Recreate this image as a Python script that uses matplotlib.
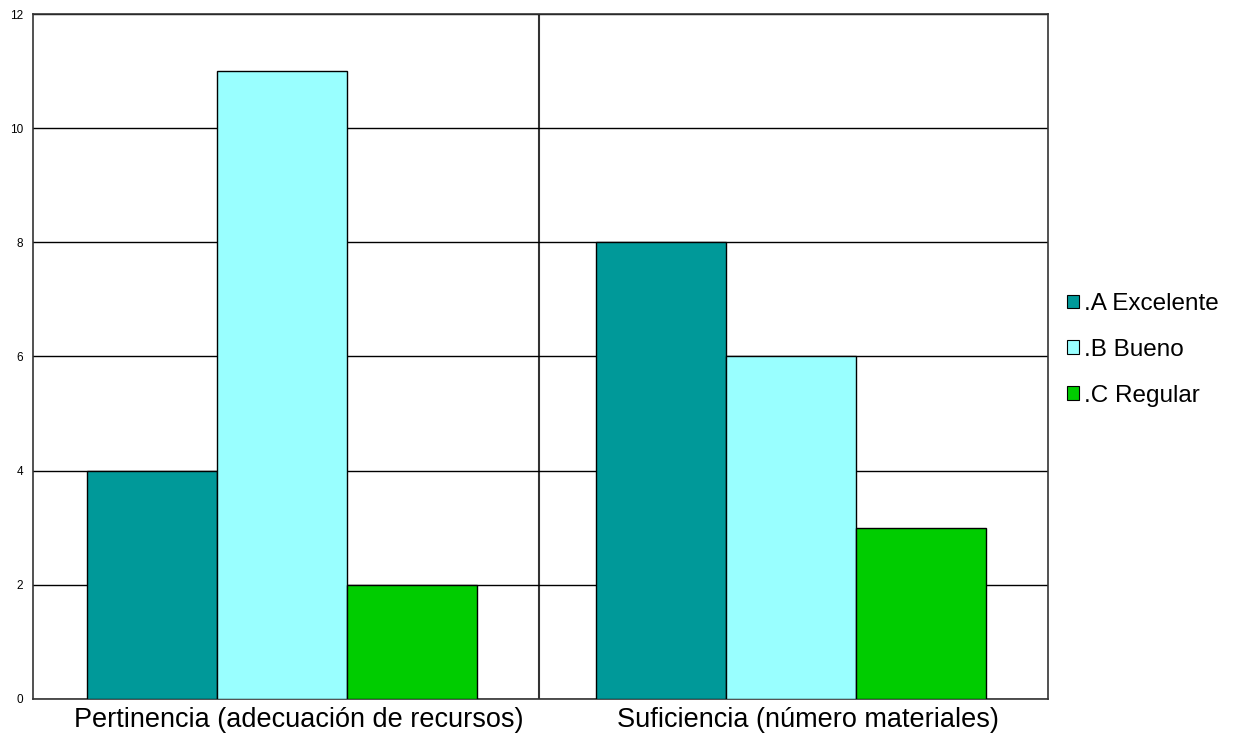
import numpy as np
import matplotlib
matplotlib.use('Agg')
import matplotlib.pyplot as plt

plt.rcParams['font.family'] = ['Liberation Sans', 'DejaVu Sans']

# data
categories = ['Pertinencia (adecuación de recursos)', 'Suficiencia (número materiales)']
series_names = ['.A Excelente', '.B Bueno', '.C Regular']
excelente = [4, 8]
bueno = [11, 6]
regular = [2, 3]
colors = ['#009999', '#99FFFF', '#00CC00']

fig = plt.figure(figsize=(12.49, 7.33), dpi=100)
ax = fig.add_axes([0.0264, 0.0464, 0.813, 0.9345])

x = np.arange(len(categories))
w = 0.2555
for i, (vals, name) in enumerate(zip([excelente, bueno, regular], series_names)):
    ax.bar(x + (i - 1) * w, vals, width=w, color=colors[i], edgecolor='black',
           linewidth=1.0, label=name, zorder=3)

ax.set_xlim(-0.489, 1.505)
ax.set_ylim(0, 12)
ax.set_yticks(range(0, 13, 2))
ax.yaxis.grid(True, color='black', linewidth=1.0, zorder=0)
ax.axvline(0.505, color='#333333', linewidth=1.5, zorder=1)
ax.set_xticks(x)
ax.set_xticklabels([])
# category labels sit a little right of the bar groups in the original
for xi, cat in zip(x, categories):
    ax.annotate(cat, xy=(xi, 0), xycoords=('data', 'axes fraction'),
                xytext=(12, -6), textcoords='offset points',
                ha='center', va='top', fontsize=19.5)
ax.tick_params(axis='both', length=0)
ax.tick_params(axis='y', labelsize=8.5, pad=7)
for s in ax.spines.values():
    s.set_color('#333333')
    s.set_linewidth(1.2)

leg = fig.legend(loc='upper left', bbox_to_anchor=(0.837, 0.63), frameon=False,
                 fontsize=17.5, handlelength=0.5, handleheight=0.5,
                 handletextpad=0.2, labelspacing=0.98)
for h in leg.legend_handles:
    h.set_edgecolor('black')
    h.set_linewidth(0.8)

fig.savefig('out.png', dpi=100)
